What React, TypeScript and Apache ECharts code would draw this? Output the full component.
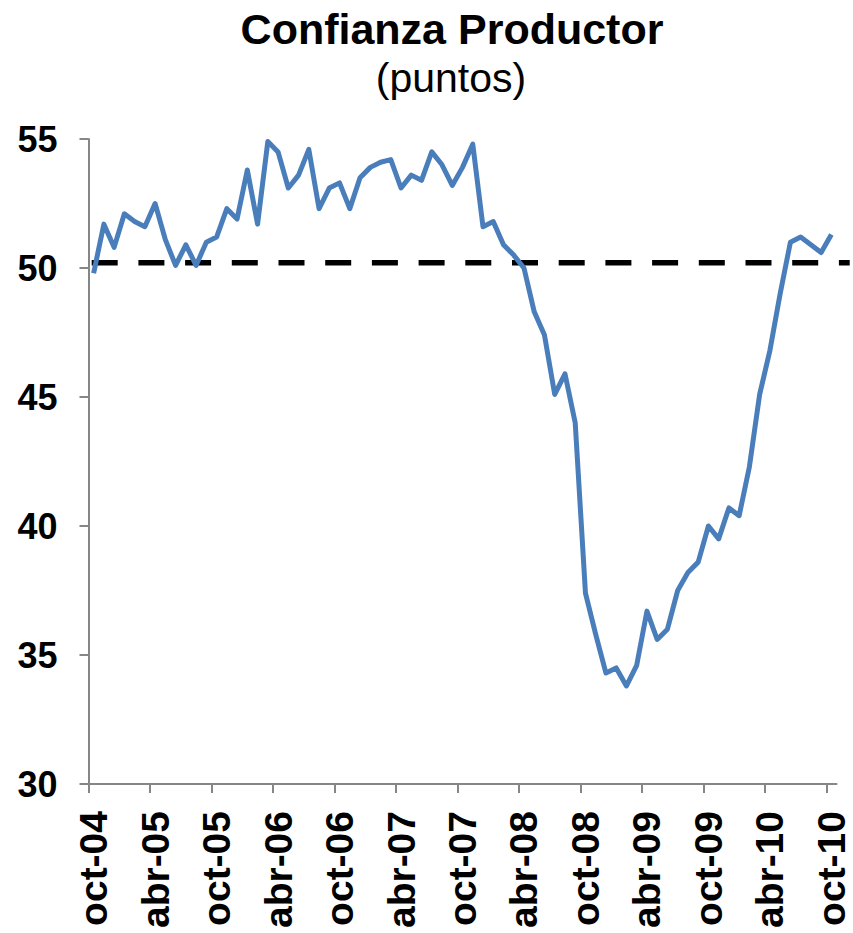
import React, { useEffect, useRef } from "react";
import * as echarts from "echarts";

// Monthly producer confidence, oct-04 .. oct-10 (73 months)
const monthNames = ["ene", "feb", "mar", "abr", "may", "jun", "jul", "ago", "sep", "oct", "nov", "dic"];
const startMonth = 9; // oct
const startYear = 2004;

const values = [
  49.8, 51.7, 50.8, 52.1, 51.8, 51.6, 52.5, 51.1, 50.1, 50.9,
  50.1, 51.0, 51.2, 52.3, 51.9, 53.8, 51.7, 54.9, 54.5, 53.1,
  53.6, 54.6, 52.3, 53.1, 53.3, 52.3, 53.5, 53.9, 54.1, 54.2,
  53.1, 53.6, 53.4, 54.5, 54.0, 53.2, 53.9, 54.8, 51.6, 51.8,
  50.9, 50.5, 50.0, 48.3, 47.4, 45.1, 45.9, 44.0, 37.4, 35.8,
  34.3, 34.5, 33.8, 34.6, 36.7, 35.6, 36.0, 37.5, 38.2, 38.6,
  40.0, 39.5, 40.7, 40.4, 42.3, 45.1, 46.8, 49.0, 51.0, 51.2,
  50.9, 50.6, 51.3,
];

const categories: string[] = values.map((_, i) => {
  const m = (startMonth + i) % 12;
  const y = startYear + Math.floor((startMonth + i) / 12);
  return `${monthNames[m]}-${String(y % 100).padStart(2, "0")}`;
});

const referenceLevel = 50.2;
const yMin = 30;
const yMax = 55;
const yStep = 5;
const labelEvery = 6;

const tickValues: number[] = [];
const labelValues: number[] = [];
for (let i = 0; i < categories.length; i += labelEvery) {
  tickValues.push(i);
  labelValues.push(i + 0.5);
}

const FONT = "'Liberation Sans', Arial, sans-serif";
const AXIS_GRAY = "#868686";

export default function App() {
  const ref = useRef<HTMLDivElement>(null);

  useEffect(() => {
    if (!ref.current) return;
    const chart = echarts.init(ref.current, undefined, { renderer: "svg" });
    const option: any = {
      animation: false,
      backgroundColor: "#ffffff",
      title: [
        {
          text: "Confianza Productor",
          left: 452,
          top: 7,
          padding: 0,
          textAlign: "center",
          textStyle: { fontFamily: FONT, fontSize: 43, fontWeight: "bold", color: "#000" },
        },
        {
          text: "(puntos)",
          left: 451,
          top: 57,
          padding: 0,
          textAlign: "center",
          textStyle: { fontFamily: FONT, fontSize: 41, fontWeight: "normal", color: "#000" },
        },
      ],
      grid: [
        { left: 88.5, top: 139, width: 748, height: 645, containLabel: false },
        { left: 91.7, top: 139, width: 758, height: 645, containLabel: false },
      ],
      xAxis: [
        {
          type: "value",
          gridIndex: 0,
          min: 0,
          max: categories.length,
          splitLine: { show: false },
          axisLine: { show: true, onZero: false, lineStyle: { color: AXIS_GRAY, width: 2 } },
          axisTick: {
            show: true,
            customValues: tickValues,
            length: 9,
            lineStyle: { color: AXIS_GRAY, width: 2 },
          },
          axisLabel: {
            customValues: labelValues,
            formatter: (v: number) => categories[Math.floor(v)] ?? "",
            rotate: 90,
            margin: 27,
            fontFamily: FONT,
            fontSize: 39,
            fontWeight: "bold",
            color: "#000",
          },
        },
        { type: "value", gridIndex: 1, min: 0, max: 1, show: false },
      ],
      yAxis: [
        {
          type: "value",
          gridIndex: 0,
          min: yMin,
          max: yMax,
          interval: yStep,
          splitLine: { show: false },
          axisLine: { show: true, lineStyle: { color: AXIS_GRAY, width: 2 } },
          axisTick: { show: true, length: 9, lineStyle: { color: AXIS_GRAY, width: 2 } },
          axisLabel: {
            margin: 31,
            fontFamily: FONT,
            fontSize: 36,
            fontWeight: "bold",
            color: "#000",
          },
        },
        { type: "value", gridIndex: 1, min: yMin, max: yMax, show: false },
      ],
      series: [
        {
          name: "Nivel 50",
          type: "line",
          xAxisIndex: 1,
          yAxisIndex: 1,
          data: [
            [0, referenceLevel],
            [1, referenceLevel],
          ],
          symbol: "none",
          silent: true,
          z: 1,
          lineStyle: { color: "#000", width: 5.5, type: [26, 20.7], cap: "butt" },
        },
        {
          name: "Confianza Productor",
          type: "line",
          xAxisIndex: 0,
          yAxisIndex: 0,
          data: values.map((v, i) => [i + 0.5, v]),
          symbol: "none",
          z: 3,
          lineStyle: { color: "#4A7EBB", width: 5, join: "round", cap: "butt" },
        },
      ],
    };
    chart.setOption(option);
    return () => chart.dispose();
  }, []);

  return (
    <div
      ref={ref}
      style={{ position: "fixed", left: 0, top: 0, width: 853, height: 933, background: "#fff" }}
    />
  );
}
